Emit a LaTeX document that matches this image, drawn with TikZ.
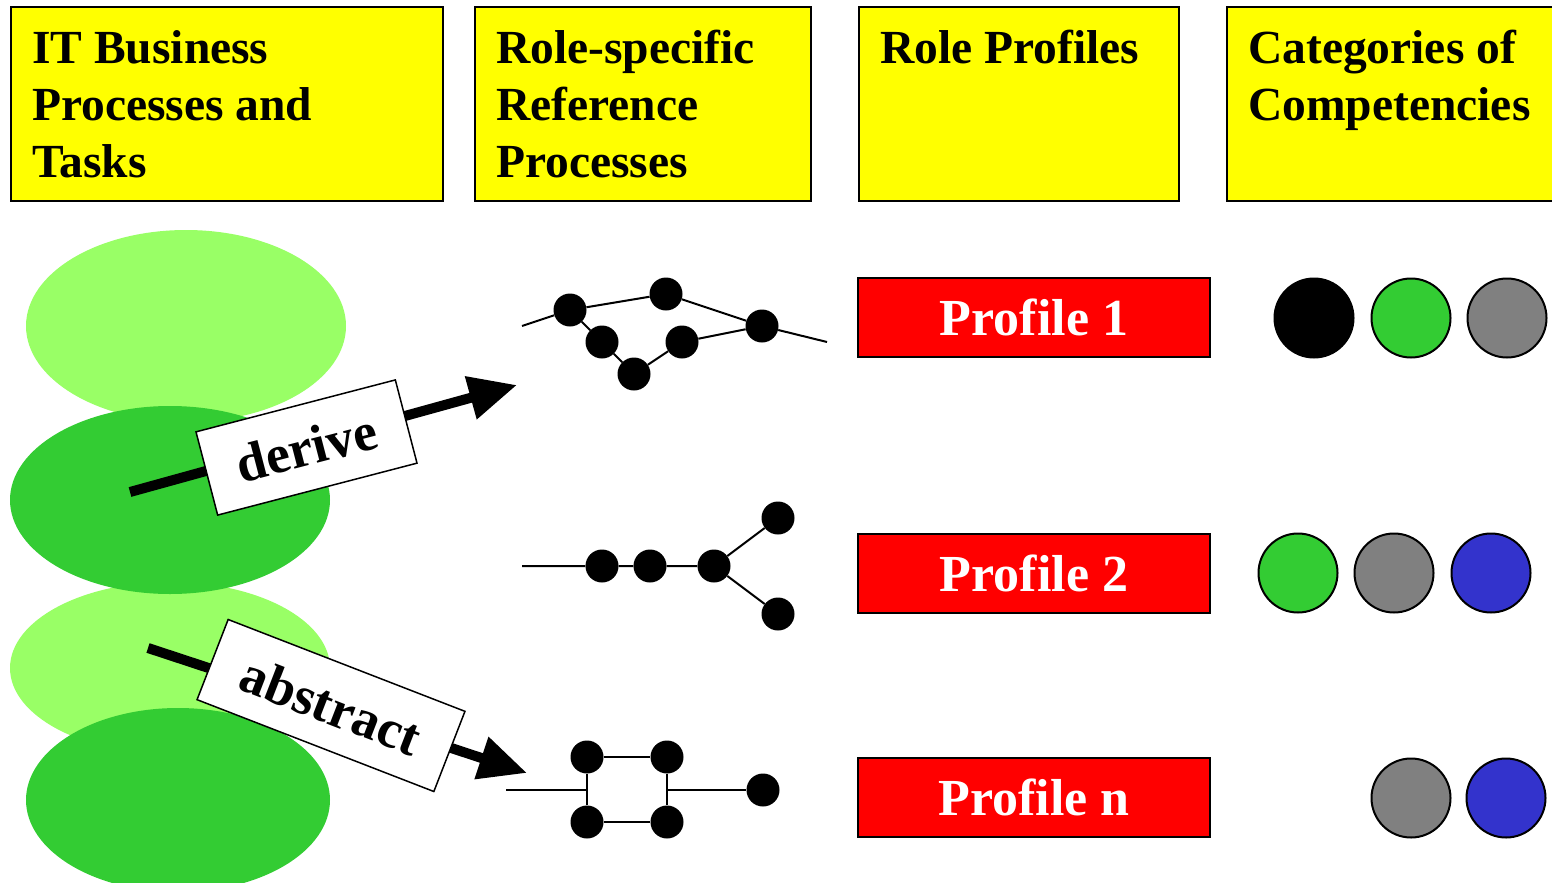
\documentclass[tikz,border=0pt]{standalone}
\usepackage{fontspec}
\setmainfont{Liberation Serif}
\usetikzlibrary{arrows.meta}

\definecolor{hdryellow}{HTML}{FFFF00}
\definecolor{lightgreen}{HTML}{99FF66}
\definecolor{midgreen}{HTML}{33CC33}
\definecolor{midgray}{HTML}{808080}
\definecolor{deepblue}{HTML}{3333CC}
\definecolor{profred}{HTML}{FF0000}

\tikzset{
  hdrbox/.style={draw=black, line width=2pt, fill=hdryellow, rectangle,
    anchor=north west, minimum height=194pt, inner sep=0pt},
  hdrtext/.style={anchor=north west, inner sep=0pt, align=left,
    font=\bfseries\fontsize{47.5}{57}\selectfont},
  profbox/.style={draw=black, line width=2pt, fill=profred, rectangle,
    minimum width=352pt, minimum height=79pt, inner sep=0pt,
    text=white, font=\bfseries\fontsize{52}{60}\selectfont},
  compdot/.style={circle, draw=black, line width=2pt, minimum size=79pt, inner sep=0pt},
  gdot/.style={circle, fill=black, minimum size=33pt, inner sep=0pt},
  gedge/.style={line width=2pt},
  bigarrow/.style={line width=10pt, -{Triangle[length=48pt,width=42pt]}},
  verbbox/.style={draw=black, line width=1.5pt, fill=white, rectangle, inner sep=0pt,
    minimum height=86pt, font=\bfseries\fontsize{54}{60}\selectfont}
}

\begin{document}
\begin{tikzpicture}[x=1pt, y=-1pt]
\useasboundingbox (0,0) rectangle (1552,883);
\clip (0,0) rectangle (1552,883);

% column headers
\node[hdrbox, minimum width=432pt] (hA) at (10,6) {};
\node[hdrtext] (tA) at (32,30) {IT Business\\Processes and\\Tasks};
\node[hdrbox, minimum width=336pt] (hB) at (474,6) {};
\node[hdrtext] (tB) at (496,30) {Role-specific\\Reference\\Processes};
\node[hdrbox, minimum width=320pt] (hC) at (858,6) {};
\node[hdrtext] (tC) at (880,30) {Role Profiles};
\node[hdrbox, minimum width=340pt] (hD) at (1226,6) {};
\node[hdrtext] (tD) at (1248,30) {Categories of\\Competencies};

% business process ellipses
\fill[lightgreen] (186,326) ellipse [x radius=160, y radius=96];
\fill[lightgreen] (170,668) ellipse [x radius=160, y radius=86];
\fill[midgreen] (170,500) ellipse [x radius=160, y radius=94];
\fill[midgreen] (178,800) ellipse [x radius=152, y radius=92];

% derive / abstract arrows
\coordinate (d0) at (130,492);
\coordinate (d1) at (517,385);
\draw[bigarrow] (d0) -- (d1);
\node[verbbox, minimum width=206pt, rotate=14.6] (derive) at (306.5,447.5) {derive};

\coordinate (a0) at (148,648);
\coordinate (a1) at (527,773);
\draw[bigarrow] (a0) -- (a1);
\node[verbbox, minimum width=254pt, rotate=-21.2] (abstract) at (331,705.5) {abstract};

% reference process graph 1
\node[gdot] (g1a) at (570,310) {};
\node[gdot] (g1b) at (666,294) {};
\node[gdot] (g1c) at (762,326) {};
\node[gdot] (g1d) at (602,342) {};
\node[gdot] (g1e) at (634,374) {};
\node[gdot] (g1f) at (682,342) {};
\coordinate (g1s) at (522,326);
\coordinate (g1t) at (827,342);
\draw[gedge] (g1s) -- (g1a) -- (g1b) -- (g1c) -- (g1t);
\draw[gedge] (g1a) -- (g1d) -- (g1e) -- (g1f) -- (g1c);

% reference process graph 2
\node[gdot] (g2a) at (602,566) {};
\node[gdot] (g2b) at (650,566) {};
\node[gdot] (g2c) at (714,566) {};
\node[gdot] (g2d) at (778,518) {};
\node[gdot] (g2e) at (778,614) {};
\coordinate (g2s) at (522,566);
\draw[gedge] (g2s) -- (g2a) -- (g2b) -- (g2c) -- (g2d);
\draw[gedge] (g2c) -- (g2e);

% reference process graph 3
\node[gdot] (g3a) at (587,757) {};
\node[gdot] (g3b) at (667,757) {};
\node[gdot] (g3c) at (587,822) {};
\node[gdot] (g3d) at (667,822) {};
\node[gdot] (g3e) at (763,790) {};
\coordinate (g3s) at (506,790);
\coordinate (g3l) at (587,790);
\coordinate (g3r) at (667,790);
\draw[gedge] (g3a) -- (g3b) -- (g3d) -- (g3c) -- (g3a);
\draw[gedge] (g3s) -- (g3l);
\draw[gedge] (g3r) -- (g3e);

% role profiles
\node[profbox] (p1) at (1034,317.5) {Profile 1};
\node[profbox] (p2) at (1034,573.5) {Profile 2};
\node[profbox] (pn) at (1034,797.5) {Profile n};

% competency categories
\node[compdot, fill=black] (c1a) at (1314,318) {};
\node[compdot, fill=midgreen] (c1b) at (1411,318) {};
\node[compdot, fill=midgray] (c1c) at (1507,318) {};
\node[compdot, fill=midgreen] (c2a) at (1298,573) {};
\node[compdot, fill=midgray] (c2b) at (1394,573) {};
\node[compdot, fill=deepblue] (c2c) at (1491,573) {};
\node[compdot, fill=midgray] (cna) at (1411,798) {};
\node[compdot, fill=deepblue] (cnb) at (1506,798) {};
\end{tikzpicture}
\end{document}
